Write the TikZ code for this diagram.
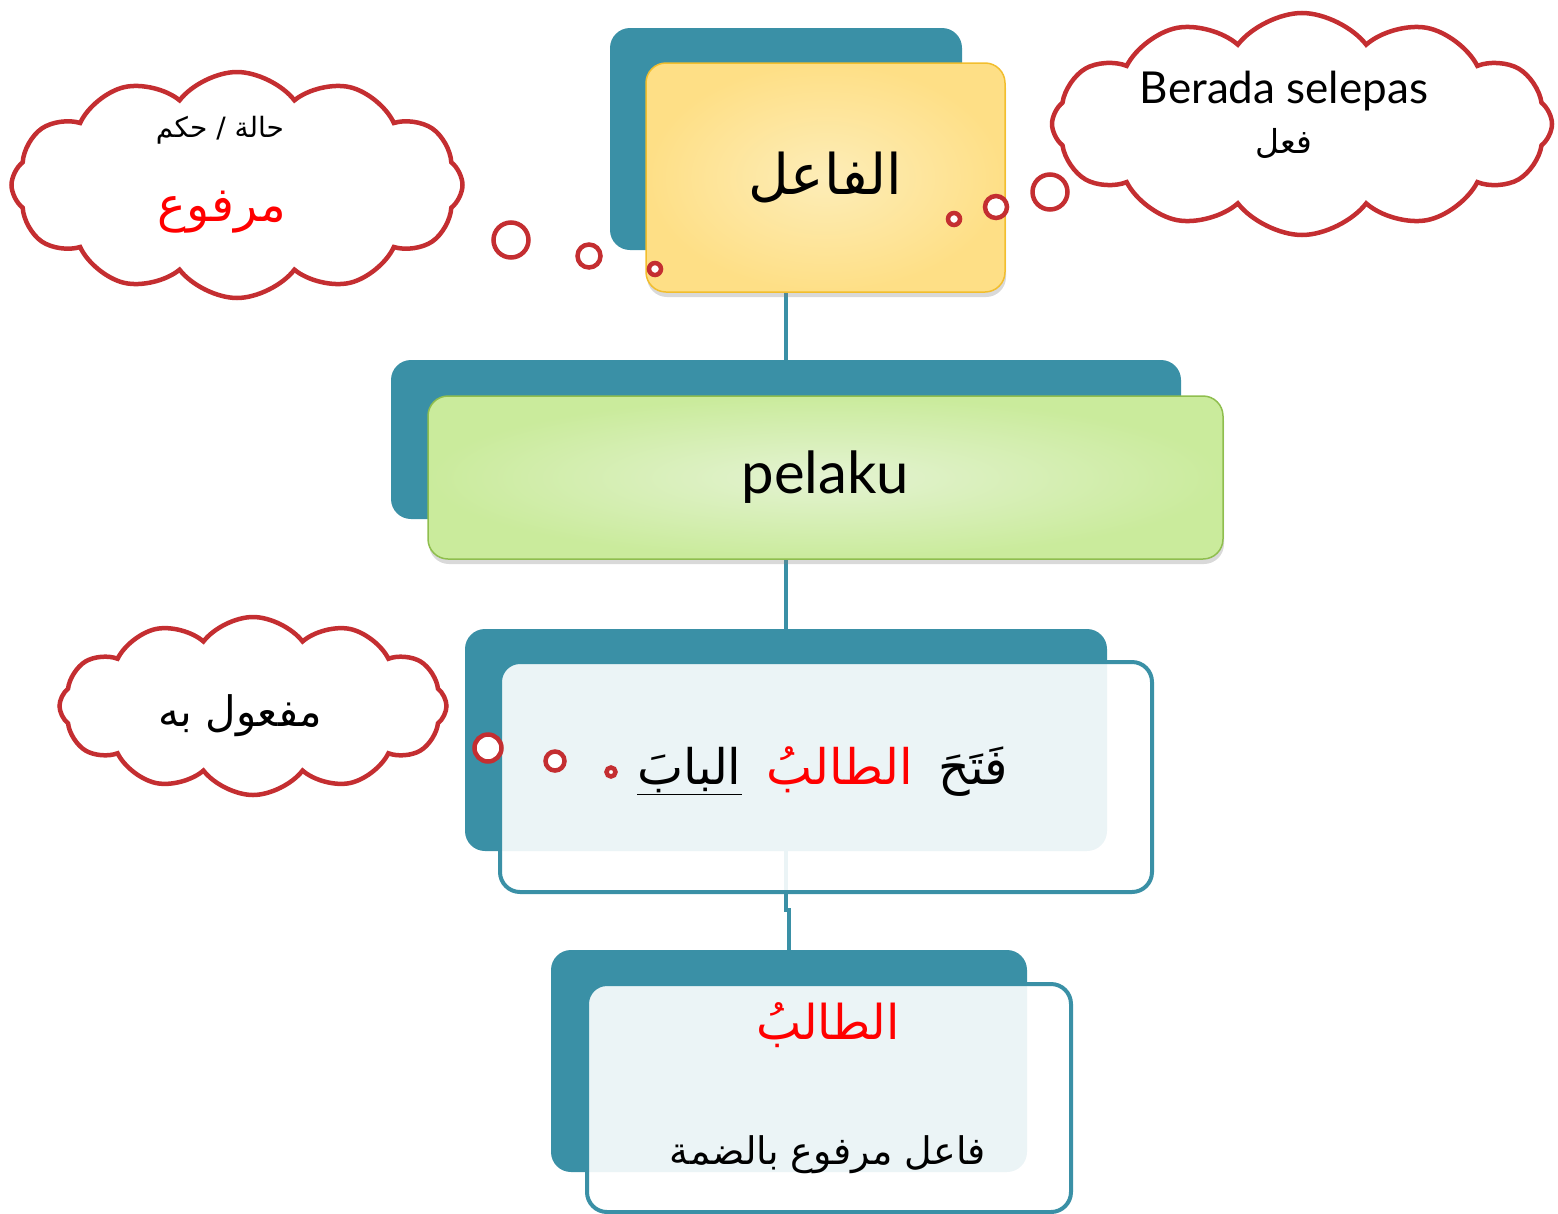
\documentclass[tikz,border=0pt]{standalone}
\usepackage{fontspec}
\usepackage{xcolor}
\usetikzlibrary{positioning}
\usetikzlibrary{shapes.symbols}
\usetikzlibrary{shadows}
\newfontfamily\latinfont{Lato}
\newfontfamily\arabicfont[Script=Arabic]{DejaVu Sans}
\TeXXeTstate=1
\definecolor{tealbox}{HTML}{3A90A6}
\definecolor{cloudred}{HTML}{C42E31}
\definecolor{goldedge}{HTML}{F2BE2E}
\definecolor{goldin}{HTML}{FDEDB8}
\definecolor{goldout}{HTML}{FEDF86}
\definecolor{greenin}{HTML}{E4F3D2}
\definecolor{greenout}{HTML}{CAEB9C}
\definecolor{greenedge}{HTML}{8FBE4E}

\begin{document}
\begin{tikzpicture}[x=1pt, y=-1pt,
    back/.style={fill=tealbox, rounded corners=20pt, inner sep=0pt},
    front/.style={rounded corners=20pt, inner sep=0pt, line width=1.5pt,
      drop shadow={opacity=0.3, shadow xshift=1pt, shadow yshift=-5pt}},
    plainbox/.style={rounded corners=20pt, inner sep=0pt, draw=tealbox, line width=4pt,
      fill=white, fill opacity=0.9, text opacity=1},
    thought/.style={cloud, cloud puffs=12, cloud puff arc=105, cloud ignores aspect,
      draw=cloudred, line width=4.5pt, fill=white, inner sep=0pt},
    dot/.style={circle, draw=cloudred, line width=4.5pt, fill=white, inner sep=0pt},
    link/.style={draw=tealbox, line width=4pt},
    ar/.style={font=\arabicfont\fontsize{#1}{#1}\selectfont}
  ]
  \useasboundingbox (0,0) rectangle (1558,1213);

  % teal backs
  \node[back, minimum width=352pt, minimum height=222pt] (faback) at (786,139) {};
  \node[back, minimum width=790pt, minimum height=159pt] (peback) at (786,439.5) {};
  \node[back, minimum width=642pt, minimum height=222pt] (jback) at (786,740) {};
  \node[back, minimum width=476pt, minimum height=222pt] (tback) at (789,1061) {};

  \draw[link] (faback.south) -- (peback.north);
  \draw[link] (peback.south) -- (jback.north);
  \draw[link] (jback.south) -- ++(0,59) -| (tback.north);

  % front boxes
  \node[front, draw=goldedge, inner color=goldin, outer color=goldout,
    minimum width=359pt, minimum height=229pt, ar=56] (fa) at (825.5,177.5) {الفاعل};
  \node[front, draw=greenedge, inner color=greenin, outer color=greenout,
    minimum width=795pt, minimum height=163pt,
    font=\latinfont\fontsize{58}{58}\selectfont] (pe) at (825.5,477.5) {pelaku};
  \node[plainbox, minimum width=652pt, minimum height=230pt] (jf) at (826,777) {};
  \node[plainbox, minimum width=484pt, minimum height=228pt] (tf) at (829,1098) {};

  % the sentence
  \node[ar=49, text=red] (talib) at (840,770) {الطالبُ};
  \node[ar=49, base right=18pt of talib] (fataha) {فَتَحَ};
  \node[ar=49, base left=18pt of talib] (bab) {$\underline{\hbox{\arabicfont البابَ}}$};

  \node[ar=48, text=red] (tname) at (828,1025) {الطالبُ};
  \node[ar=38] (tdesc) at (828,1155) {\beginR فاعل مرفوع بالضمة\endR};

  % clouds
  \node[thought, minimum width=451pt, minimum height=226pt] (hukm) at (237,185) {};
  \node[ar=28] (hukmtop) at (220,130) {\beginR حالة / حكم\endR};
  \node[ar=48, text=red] (marfu) at (222,212) {مرفوع};
  \node[dot, minimum size=35pt] (h1) at (511,240) {};
  \node[dot, minimum size=23pt] (h2) at (589,256) {};
  \node[dot, minimum size=12pt] (h3) at (655,269) {};

  \node[thought, minimum width=500pt, minimum height=222pt] (selepas) at (1302,124) {};
  \node[font=\latinfont\fontsize{44}{44}\selectfont] (seltop) at (1284,91) {Berada selepas};
  \node[ar=33] (fil) at (1284,143) {فعل};
  \node[dot, minimum size=35pt] (s1) at (1050,192) {};
  \node[dot, minimum size=22pt] (s2) at (996,207) {};
  \node[dot, minimum size=12pt] (s3) at (954,219) {};

  \node[thought, minimum width=387pt, minimum height=178pt] (maful) at (253,706) {};
  \node[ar=42] (maftxt) at (240,716) {\beginR مفعول به\endR};
  \node[dot, minimum size=27pt] (m1) at (488,748) {};
  \node[dot, minimum size=19pt] (m2) at (555,761) {};
  \node[dot, minimum size=9pt] (m3) at (611,772) {};
\end{tikzpicture}
\end{document}
